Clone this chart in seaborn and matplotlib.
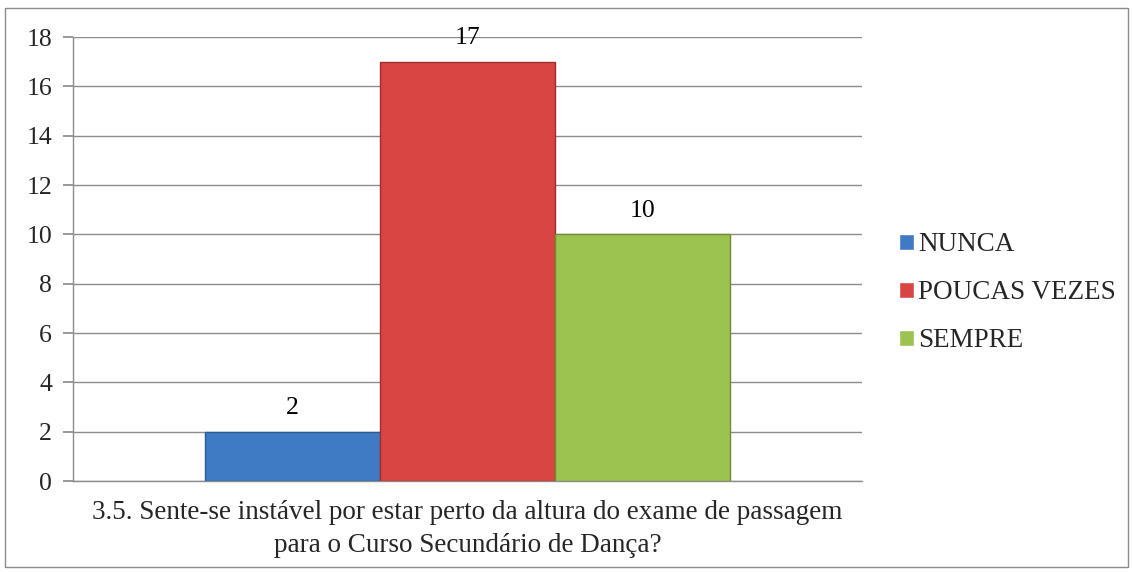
import numpy as np
import pandas as pd
import matplotlib
matplotlib.use('Agg')
import matplotlib.pyplot as plt
import seaborn as sns
from matplotlib.patches import Rectangle

# data
question = ["3.5. Sente-se instável por estar perto da altura do exame de passagem\npara o Curso Secundário de Dança?"]
answers = ["NUNCA", "POUCAS VEZES", "SEMPRE"]
counts = [2, 17, 10]
bar_colors = ["#3E7BC4", "#D84542", "#9CC34F"]
edge_colors = ["#2C5C96", "#9E2F2D", "#6F8E34"]

df = pd.DataFrame({'question': question * len(answers), 'answer': answers, 'count': counts})

sns.set_theme(style='white', rc={'font.family': 'serif', 'font.serif': ['Liberation Serif']})
plt.rcParams['font.family'] = 'serif'
plt.rcParams['font.serif'] = ['Liberation Serif']

fig = plt.figure(figsize=(11.33, 5.72), dpi=100)
ax = fig.add_axes([0.0644, 0.159, 0.6964, 0.776])

sns.barplot(data=df, x='question', y='count', hue='answer', palette=bar_colors,
            width=0.665, saturation=1, ax=ax, legend=True)

for bar, ec in zip(ax.patches, edge_colors):
    bar.set_edgecolor(ec)
    bar.set_linewidth(1.0)
    bar.set_zorder(3)

for cont in ax.containers:
    ax.bar_label(cont, padding=9, fontsize=18.5, color='black')

ax.set_ylim(0, 18)
ax.set_yticks(np.arange(0, 19, 2))
ax.set_xlim(-0.5, 0.5)
ax.yaxis.grid(True, color='#8c8c8c', linewidth=1)
ax.set_axisbelow(True)
ax.set_xlabel('')
ax.set_ylabel('')
ax.tick_params(axis='y', labelsize=18.5, length=7, color='#8c8c8c', left=True, pad=8)
ax.tick_params(axis='x', labelsize=19.5, length=0, pad=14)
for lab in ax.get_xticklabels():
    lab.set_linespacing(1.4)
for side in ['top', 'right']:
    ax.spines[side].set_visible(False)
for side in ['left', 'bottom']:
    ax.spines[side].set_color('#8c8c8c')
    ax.spines[side].set_linewidth(1)

handles, labels = ax.get_legend_handles_labels()
ax.legend_.remove()
fig.legend(handles, labels, loc='center left', bbox_to_anchor=(0.772, 0.488),
           frameon=False, fontsize=19.5, handlelength=0.55, handleheight=0.55,
           handletextpad=0.15, labelspacing=0.85)

fig.patches.append(Rectangle((0.0045, 0.009), 0.991, 0.977, transform=fig.transFigure,
                             fill=False, edgecolor='#8c8c8c', linewidth=1))

fig.savefig('out.png', dpi=100)
